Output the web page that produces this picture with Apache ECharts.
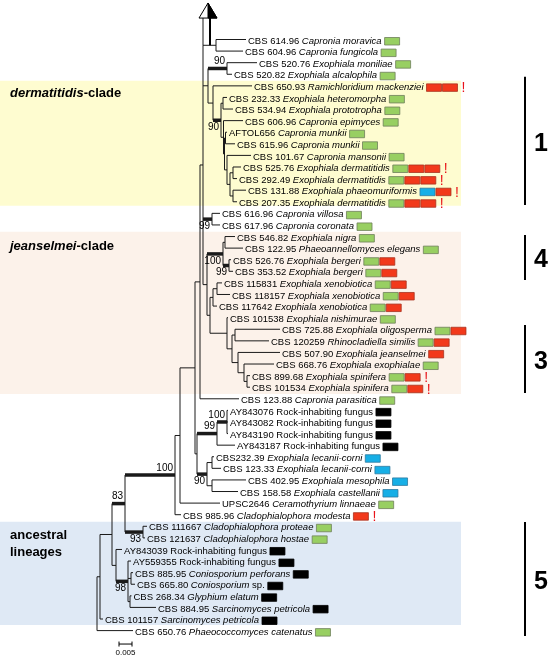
<!DOCTYPE html>
<html><head><meta charset="utf-8">
<script src="https://cdn.jsdelivr.net/npm/echarts@6/dist/echarts.min.js"></script>
<style>html,body{margin:0;padding:0;background:#fff}#c{width:548px;height:657px}</style>
</head><body><div id="c"></div>
<script>
// ---------- DATA ----------
// Leaves, top to bottom
const leafCodes = ['CBS 614.96','CBS 604.96','CBS 520.76','CBS 520.82','CBS 650.93','CBS 232.33','CBS 534.94','CBS 606.96','AFTOL656','CBS 615.96','CBS 101.67','CBS 525.76','CBS 292.49','CBS 131.88','CBS 207.35','CBS 616.96','CBS 617.96','CBS 546.82','CBS 122.95','CBS 526.76','CBS 353.52','CBS 115831','CBS 118157','CBS 117642','CBS 101538','CBS 725.88','CBS 120259','CBS 507.90','CBS 668.76','CBS 899.68','CBS 101534','CBS 123.88','AY843076','AY843082','AY843190','AY843187','CBS232.39','CBS 123.33','CBS 402.95','CBS 158.58','UPSC2646','CBS 985.96','CBS 111667','CBS 121637','AY843039','AY559355','CBS 885.95','CBS 665.80','CBS 268.34','CBS 884.95','CBS 101157','CBS 650.76'];
const leafTaxa = ['Capronia moravica','Capronia fungicola','Exophiala moniliae','Exophiala alcalophila','Ramichloridium mackenziei','Exophiala heteromorpha','Exophiala prototropha','Capronia epimyces','Capronia munkii','Capronia munkii','Capronia mansonii','Exophiala dermatitidis','Exophiala dermatitidis','Exophiala phaeomuriformis','Exophiala dermatitidis','Capronia villosa','Capronia coronata','Exophiala nigra','Phaeoannellomyces elegans','Exophiala bergeri','Exophiala bergeri','Exophiala xenobiotica','Exophiala xenobiotica','Exophiala xenobiotica','Exophiala nishimurae','Exophiala oligosperma','Rhinocladiella similis','Exophiala jeanselmei','Exophiala exophialae','Exophiala spinifera','Exophiala spinifera','Capronia parasitica','','','','','Exophiala lecanii-corni','Exophiala lecanii-corni','Exophiala mesophila','Exophiala castellanii','Ceramothyrium linnaeae','Cladophialophora modesta','Cladophialophora proteae','Cladophialophora hostae','','','Coniosporium perforans','Coniosporium','Glyphium elatum','Sarcinomyces petricola','Sarcinomyces petricola','Phaeococcomyces catenatus'];
const leafExtra = ['','','','','','','','','','','','','','','','','','','','','','','','','','','','','','','','','Rock-inhabiting fungus','Rock-inhabiting fungus','Rock-inhabiting fungus','Rock-inhabiting fungus','','','','','','','','','Rock-inhabiting fungus','Rock-inhabiting fungus','','sp.','','','',''];
// G green, R red, B blue, K black, ! warning
const leafMarks = ['G','G','G','G','RR!','G','G','G','G','G','G','GRR!','GRR!','BR!','GRR!','G','G','G','G','GR','GR','GR','GR','GR','G','GR','GR','R','G','GR!','GR!','G','K','K','K','K','B','B','B','B','G','R!','G','G','K','K','K','K','K','K','K','G'];
// Tip depth of each leaf (distance units: 13 units = 0.005 subst./site)
const leafTip = [151,148,162,137,157,132,138,148,132,140,156,146,142,151,142,125,125,140,148,136,138,127,135,122,133,185,174,185,179,155,155,144,133,133,133,140,119,126,151,143,125,86,52,50,27,36,38,40,36.5,61,8,38];
// Internal nodes: d = depth, c = children (leaf indices or nodes), bs = bootstrap, up = label above
const tree = {d:2, c:[
 {d:5, c:[
  {d:17, c:[
   {d:30, bs:'83', up:1, c:[
    {d:80, bs:'100', up:1, c:[
     {d:85, c:[
      {d:100, c:[
       {d:105, c:[
        {d:108, arrow:1, c:[
         {d:121, c:[0,1]},
         {d:113, c:[
          {d:132, bs:'90', up:1, c:[2,3]},
          {d:118, c:[4,
           {d:126, bs:'90', up:0, c:[
            {d:128, c:[5,6]},
            {d:128.5, c:[7,
             {d:129.5, c:[
              {d:130.5, c:[8,9]},
              {d:132, c:[10,
               {d:135, c:[
                {d:138, c:[11,12]},
                {d:138, c:[13,14]}]}]}]}]}]}]}]},
         {d:117, bs:'99', up:0, c:[15,16]},
         {d:112, c:[
          {d:128, bs:'100', up:0, c:[
           {d:130, c:[17,18]},
           {d:134, bs:'99', up:0, c:[19,20]}]},
          {d:115, c:[
           {d:118, c:[{d:122, c:[21,22]}, 23]},
           {d:132, c:[24,
            {d:137, c:[
             {d:140, c:[25,26]},
             {d:143, c:[27,
              {d:149, c:[28, {d:152, c:[29,30]}]}]}]}]}]}]}]},
        31]},
       {d:102, c:[
        {d:122, bs:'99', up:1, c:[{d:132, bs:'100', up:1, c:[32,33,34]}, 35]},
        {d:112, bs:'90', up:0, c:[{d:117, c:[36,37]}, {d:117, c:[38,39]}]}]}]},
      40]},
     41]},
    {d:48, bs:'93', up:0, c:[42,43]}]},
   {d:21, c:[44, {d:33, bs:'98', up:0, c:[45, {d:36, c:[46,47]}, {d:35, c:[48,49]}]}]}]},
  50]},
 51]};
// Shaded groups: [fromRow, toRow, colour]
const bands = [[3.55,14.34,'#fefcd0'],[16.58,30.59,'#fcf2ea'],[41.6,50.52,'#dfe9f5']];
// Clade bars on the right: [fromRow, toRow, label]
const cladeBars = [[3.21,14.28,'1'],[16.87,20.75,'4'],[24.63,30.5,'3'],[41.63,51.47,'5']];
// Group names: [row, [[text, italic]...]]
const groupNames = [[4.62,[['dermatitidis',1],['-clade',0]]],[17.82,[['jeanselmei',1],['-clade',0]]],[42.75,[['ancestral',0]]],[44.22,[['lineages',0]]]];
const scaleBar = {from:24, len:13, row:52.16, label:'0.005'};
const arrowHead = {x:113, tipRow:-3.15, baseRow:-1.85, half:9, rightShaft:115};

// ---------- LAYOUT ----------
const segs = [], boots = []; let arrowNode = null;
function lay(n){
  if (typeof n === 'number') return {x: leafTip[n], y: n};
  const kids = n.c.map(lay);
  const y0 = kids[0].y, y1 = kids[kids.length-1].y;
  const y = (y0 + y1) / 2;
  segs.push([n.d, y0, n.d, y1, 1]);
  n.c.forEach((c,k)=>{
    const thick = (typeof c === 'object' && c.bs) ? 3.5 : 1;
    segs.push([n.d, kids[k].y, kids[k].x, kids[k].y, thick]);
    if (typeof c === 'object' && c.bs) boots.push([kids[k].x, kids[k].y, c.bs, c.up]);
  });
  if (n.arrow) arrowNode = {d: n.d, top: y0};
  return {x: n.d, y};
}
lay(tree);

const FONT = 'Liberation Sans';
const ctx = document.createElement('canvas').getContext('2d');
function tw(s, italic, bold, size){ ctx.font = (italic?'italic ':'') + (bold?'bold ':'') + size + 'px "' + FONT + '"'; return ctx.measureText(s).width; }
const markFill = {G:'#98cf62', R:'#f2391b', B:'#17afe6', K:'#000000'};
const markStroke = {G:'#6f7f5a', R:'#a8321f', B:'#2d7aa0', K:'#000000'};
const LINE = '#1a1a1a';

const chart = echarts.init(document.getElementById('c'));
chart.setOption({
  animation: false,
  grid: {left:0, right:0, top:39.5, bottom:26.4},
  xAxis: {type:'value', min:-95, max:453, show:false},
  yAxis: {type:'value', min:0, max:51, inverse:true, show:false},
  series: [
    {type:'custom', silent:true, clip:false, z:0, data: bands.map(b=>[b[0],b[1]]),
     renderItem:(p,api)=>{ const a=api.coord([-95,api.value(0)]), b=api.coord([366,api.value(1)]);
       return {type:'rect', shape:{x:a[0],y:a[1],width:b[0]-a[0],height:b[1]-a[1]}, style:{fill:bands[p.dataIndex][2]}}; }},
    {type:'custom', silent:true, clip:false, z:2, data: segs,
     renderItem:(p,api)=>{ const a=api.coord([api.value(0),api.value(1)]), b=api.coord([api.value(2),api.value(3)]);
       return {type:'line', shape:{x1:a[0],y1:a[1],x2:b[0],y2:b[1]}, style:{stroke:LINE, lineWidth:api.value(4)}}; }},
    {type:'custom', silent:true, clip:false, z:3, data: [[arrowHead.x, arrowHead.tipRow]],
     renderItem:(p,api)=>{ const A=arrowHead;
       const tip=api.coord([A.x,A.tipRow]), bl=api.coord([A.x-A.half,A.baseRow]), br=api.coord([A.x+A.half,A.baseRow]);
       const k1=api.coord([arrowNode.d,A.baseRow]), k2=api.coord([arrowNode.d,arrowNode.top]);
       const r1=api.coord([A.rightShaft,A.baseRow]), r2=api.coord([A.rightShaft,arrowNode.top]);
       return {type:'group', children:[
         {type:'line', shape:{x1:k1[0],y1:k1[1],x2:k2[0],y2:k2[1]}, style:{stroke:LINE,lineWidth:1}},
         {type:'line', shape:{x1:r1[0],y1:r1[1],x2:r2[0],y2:r2[1]}, style:{stroke:'#000',lineWidth:2}},
         {type:'polygon', shape:{points:[tip,bl,br]}, style:{fill:'#fff',stroke:'#000',lineWidth:1}},
         {type:'polygon', shape:{points:[tip,[tip[0],bl[1]],br]}, style:{fill:'#000',stroke:'#000',lineWidth:1}}
       ]}; }},
    {type:'custom', silent:true, clip:false, z:4, data: leafTip.map((t,i)=>[t,i]),
     renderItem:(p,api)=>{ const i=p.dataIndex; const pt=api.coord([api.value(0),api.value(1)]);
       let x=pt[0]+2; const y=pt[1]+1.5; const els=[];
       const parts=[[leafCodes[i]+' ',0]];
       if (leafTaxa[i]) parts.push([leafTaxa[i],1]);
       if (leafExtra[i]) parts.push([(leafTaxa[i]?' ':'')+leafExtra[i],0]);
       parts.forEach(([s,it])=>{ els.push({type:'text', x, y, style:{text:s, fill:'#000', fontSize:9.5, fontFamily:FONT, fontStyle:it?'italic':'normal', align:'left', verticalAlign:'middle'}}); x+=tw(s,it,0,9.5); });
       x+=3;
       for (const m of leafMarks[i]){
         if (m==='!'){ els.push({type:'text', x:x+3, y:y+1, style:{text:'!', fill:'#e8141a', fontSize:14, fontFamily:FONT, align:'left', verticalAlign:'middle'}}); x+=8; }
         else { els.push({type:'rect', shape:{x:x, y:y-3.5, width:15, height:7.5}, style:{fill:markFill[m], stroke:markStroke[m], lineWidth:0.8}}); x+=16; }
       }
       return {type:'group', children:els}; }},
    {type:'custom', silent:true, clip:false, z:5, data: boots,
     renderItem:(p,api)=>{ const b=boots[p.dataIndex]; const pt=api.coord([b[0],b[1]]);
       return {type:'text', x:pt[0]-2, y: b[3]? pt[1]-2 : pt[1]+2, style:{text:b[2], fill:'#000', fontSize:10, fontFamily:FONT, align:'right', verticalAlign: b[3]?'bottom':'top'}}; }},
    {type:'custom', silent:true, clip:false, z:5, data: cladeBars.map(c=>[c[0],c[1]]),
     renderItem:(p,api)=>{ const a=api.coord([430,api.value(0)]), b=api.coord([430,api.value(1)]), t=api.coord([446,(api.value(0)+api.value(1))/2]);
       return {type:'group', children:[
         {type:'line', shape:{x1:a[0],y1:a[1],x2:b[0],y2:b[1]}, style:{stroke:'#000',lineWidth:2}},
         {type:'text', x:t[0], y:t[1]+3, style:{text:cladeBars[p.dataIndex][2], fill:'#000', fontSize:25, fontWeight:'bold', fontFamily:FONT, align:'center', verticalAlign:'middle'}}
       ]}; }},
    {type:'custom', silent:true, clip:false, z:5, data: groupNames.map(g=>[-85,g[0]]),
     renderItem:(p,api)=>{ const g=groupNames[p.dataIndex]; const pt=api.coord([api.value(0),api.value(1)]); let x=pt[0]; const els=[];
       g[1].forEach(([s,it])=>{ els.push({type:'text', x, y:pt[1], style:{text:s, fill:'#000', fontSize:13, fontWeight:'bold', fontStyle:it?'italic':'normal', fontFamily:FONT, align:'left', verticalAlign:'middle'}}); x+=tw(s,it,1,13); });
       return {type:'group', children:els}; }},
    {type:'custom', silent:true, clip:false, z:5, data: [[scaleBar.from, scaleBar.row]],
     renderItem:(p,api)=>{ const a=api.coord([scaleBar.from,scaleBar.row]), b=api.coord([scaleBar.from+scaleBar.len,scaleBar.row]);
       return {type:'group', children:[
         {type:'line', shape:{x1:a[0],y1:a[1],x2:b[0],y2:b[1]}, style:{stroke:'#000',lineWidth:1}},
         {type:'line', shape:{x1:a[0],y1:a[1]-2.5,x2:a[0],y2:a[1]+2.5}, style:{stroke:'#000',lineWidth:1}},
         {type:'line', shape:{x1:b[0],y1:b[1]-2.5,x2:b[0],y2:b[1]+2.5}, style:{stroke:'#000',lineWidth:1}},
         {type:'text', x:(a[0]+b[0])/2, y:a[1]+9, style:{text:scaleBar.label, fill:'#000', fontSize:8, fontFamily:FONT, align:'center', verticalAlign:'middle'}}
       ]}; }}
  ]
});
</script></body></html>
